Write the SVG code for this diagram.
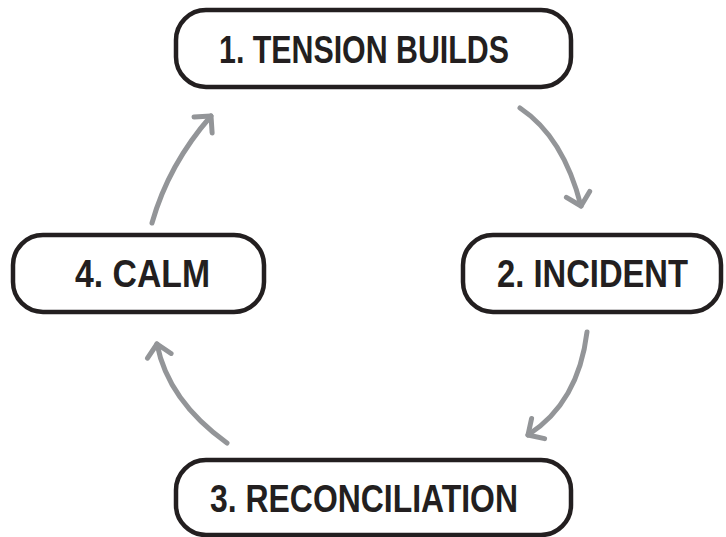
<svg xmlns="http://www.w3.org/2000/svg" width="726" height="537" viewBox="0 0 726 537">
<style>
.box{fill:#fff;stroke:#231f20;stroke-width:4.5}
.lbl{font-family:"Liberation Sans",Arial,sans-serif;font-weight:bold;font-size:39px;fill:#231f20;text-anchor:middle}
.arr{fill:none;stroke:#939598;stroke-width:5;stroke-linecap:round;stroke-linejoin:round}
</style>
<defs>
<marker id="head" markerUnits="userSpaceOnUse" markerWidth="40" markerHeight="40" refX="0" refY="0" viewBox="-20 -20 40 40" orient="auto" overflow="visible">
<path d="M-12,-12 L0,0 L-12,12" fill="none" stroke="#939598" stroke-width="5" stroke-linecap="round" stroke-linejoin="round"/>
</marker>
</defs>
<rect width="726" height="537" fill="#fff"/>
<g id="connectors">
<path class="arr" d="M520,108 Q563.5,137 581,206" marker-end="url(#head)"/>
<path class="arr" d="M587,332 Q578.5,402.5 528,435" marker-end="url(#head)"/>
<path class="arr" d="M227,443 Q168,400.5 157,344" marker-end="url(#head)"/>
<path class="arr" d="M152,223 Q168.5,164.5 211,116" marker-end="url(#head)"/>
</g>
<g id="node1">
<rect class="box" x="176" y="10" width="395" height="77" rx="30"/>
<text class="lbl" x="364" y="63" textLength="290" lengthAdjust="spacingAndGlyphs">1. TENSION BUILDS</text>
</g>
<g id="node2">
<rect class="box" x="463" y="235" width="258" height="77" rx="30"/>
<text class="lbl" x="592.5" y="287" textLength="191" lengthAdjust="spacingAndGlyphs">2. INCIDENT</text>
</g>
<g id="node3">
<rect class="box" x="176" y="460" width="395" height="75" rx="30"/>
<text class="lbl" x="364" y="512" textLength="308" lengthAdjust="spacingAndGlyphs">3. RECONCILIATION</text>
</g>
<g id="node4">
<rect class="box" x="13" y="235" width="251" height="77" rx="30"/>
<text class="lbl" x="142.5" y="287" textLength="135" lengthAdjust="spacingAndGlyphs">4. CALM</text>
</g>
</svg>
